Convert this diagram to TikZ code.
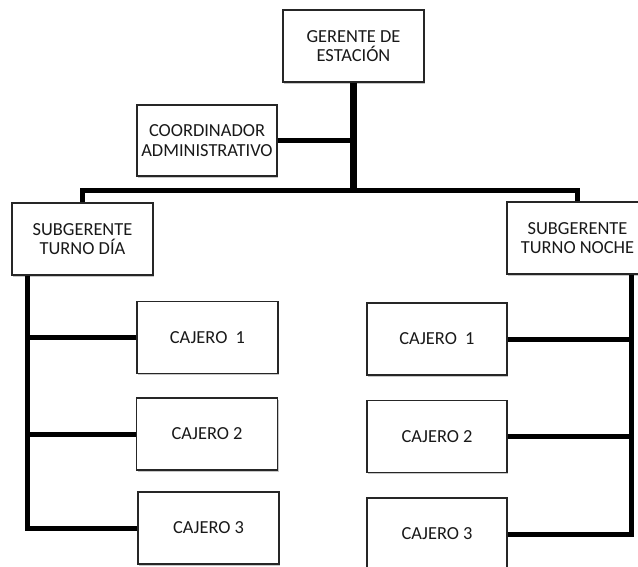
\documentclass[tikz,border=0pt]{standalone}
\usepackage{fontspec}
\setmainfont{Carlito}
\usetikzlibrary{shadows}
\begin{document}
\begin{tikzpicture}[x=1pt,y=-1pt,
  box/.style={draw=black!85,line width=1.4pt,fill=white,minimum width=141pt,minimum height=72pt,
    align=center,inner sep=0pt,text=black!90,
    font=\fontsize{18.4}{19.3}\selectfont,
    drop shadow={shadow xshift=1.2pt,shadow yshift=-1.6pt,fill=black,opacity=0.22}},
  conn/.style={line width=5pt,black,line join=miter},
  mainconn/.style={line width=7pt,black}]
\useasboundingbox (0,0) rectangle (638,567);
\clip (0,0) rectangle (638,567);
% nodes
\node[box] (ger) at (353.5,46) {GERENTE DE\\ESTACIÓN};
\node[box,minimum width=140pt,minimum height=71pt] (co) at (207,140.5) {COORDINADOR\\ADMINISTRATIVO};
\node[box] (sd) at (82.5,239) {SUBGERENTE\\TURNO DÍA};
\node[box] (sn) at (577.5,238) {SUBGERENTE\\TURNO NOCHE};
\node[box] (l1) at (207.5,337.5) {CAJERO\ \ 1};
\node[box] (l2) at (207,434) {CAJERO 2};
\node[box] (l3) at (208.5,528) {CAJERO 3};
\node[box,minimum width=140pt] (r1) at (437,339) {CAJERO\ \ 1};
\node[box,minimum width=140pt] (r2) at (437,436.5) {CAJERO 2};
\node[box,minimum width=140pt] (r3) at (437,534) {CAJERO 3};
% coordinates
\coordinate (bar) at (353.5,191);
\coordinate (lv) at (27,528);
\coordinate (rv) at (631.5,534);
% connectors
\draw[conn] (sd.north) |- (bar) -| (sn.north);
\draw[mainconn] (ger.south) -- ([yshift=2.5pt]bar);
\draw[conn] (co.east) -- (co.east -| bar);
\draw[conn] (sd.south -| lv) -- (lv) -- (l3.west);
\draw[conn] (l1.west -| lv) -- (l1.west);
\draw[conn] (l2.west -| lv) -- (l2.west);
\draw[conn] (sn.south -| rv) -- (rv) -- (r3.east);
\draw[conn] (r1.east -| rv) -- (r1.east);
\draw[conn] (r2.east -| rv) -- (r2.east);
\end{tikzpicture}
\end{document}
